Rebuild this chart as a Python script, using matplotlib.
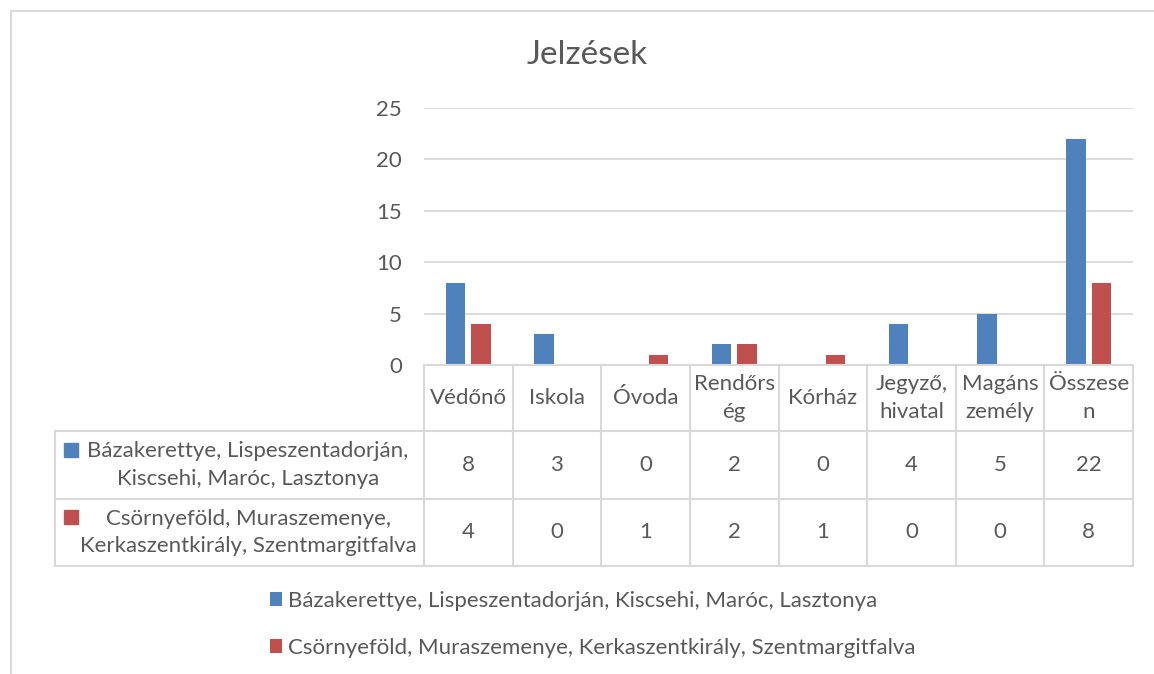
import matplotlib
matplotlib.use("Agg")
import matplotlib.pyplot as plt
from matplotlib.lines import Line2D
from matplotlib.transforms import blended_transform_factory
import numpy as np

plt.rcParams['font.family'] = ['Lato', 'DejaVu Sans']

# data
categories = ["Védőnő", "Iskola", "Óvoda", "Rendőrs\nég", "Kórház",
              "Jegyző,\nhivatal", "Magáns\nzemély", "Összese\nn"]
series_names = ["Bázakerettye, Lispeszentadorján, Kiscsehi, Maróc, Lasztonya",
                "Csörnyeföld, Muraszemenye, Kerkaszentkirály, Szentmargitfalva"]
table_names = ["Bázakerettye, Lispeszentadorján,\nKiscsehi, Maróc, Lasztonya",
               "Csörnyeföld, Muraszemenye,\nKerkaszentkirály, Szentmargitfalva"]
values_a = [8, 3, 0, 2, 0, 4, 5, 22]
values_b = [4, 0, 1, 2, 1, 0, 0, 8]

BLUE = "#4F81BD"
RED = "#C0504D"
GRID = "#D9D9D9"
TEXT = "#595959"
FS = 16

W, H = 1154, 674
fig = plt.figure(figsize=(W / 100, H / 100), dpi=100)

# plot area in pixels: x 424..1133, y 108..365
ax = fig.add_axes([424 / W, 1 - 365 / H, 709 / W, 257 / H])
x = np.arange(len(categories))
bars_a = ax.bar(x - 0.145, values_a, 0.22, color=BLUE)
bars_b = ax.bar(x + 0.145, values_b, 0.22, color=RED)
ax.set_xlim(-0.5, len(categories) - 0.5)
ax.set_ylim(0, 25)
ax.set_yticks(range(0, 26, 5))
ax.set_xticks([])
ax.yaxis.grid(True, color=GRID, lw=1.3)
ax.set_axisbelow(True)
for s in ax.spines.values():
    s.set_visible(False)
ax.tick_params(axis='y', length=0, pad=16, labelsize=FS, labelcolor=TEXT)

# data table under the axis
trans = blended_transform_factory(ax.transData, ax.transAxes)
px_h = 257.0
px_w = 709.0 / len(categories)
h1 = -66 / px_h
h2 = -134 / px_h
h3 = -201 / px_h
left_x = -0.5 - 369 / px_w
right_x = len(categories) - 0.5

def tline(xs, ys):
    ax.plot(xs, ys, color=GRID, lw=1.5, transform=trans, clip_on=False,
            solid_capstyle='projecting')

tline([-0.5, right_x], [0, 0])
for yy in (h1, h2, h3):
    tline([left_x, right_x], [yy, yy])
for k in range(len(categories) + 1):
    tline([k - 0.5, k - 0.5], [0, h3])
tline([left_x, left_x], [h1, h3])

for i, cat in enumerate(categories):
    ax.text(i, h1 / 2, cat, ha='center', va='center', fontsize=FS,
            color=TEXT, linespacing=1.45, transform=trans)
for row, vals in enumerate((values_a, values_b)):
    yc = (h1 + h2) / 2 if row == 0 else (h2 + h3) / 2
    for i, v in enumerate(vals):
        ax.text(i, yc, str(v), ha='center', va='center', fontsize=FS,
                color=TEXT, transform=trans)

label_x = -0.5 - (424 - 248) / px_w
key_x = -0.5 - (424 - 70.5) / px_w
for row, (name, col) in enumerate(zip(table_names, (BLUE, RED))):
    yc = (h1 + h2) / 2 if row == 0 else (h2 + h3) / 2
    ax.text(label_x, yc, name, ha='center', va='center', fontsize=FS,
            color=TEXT, linespacing=1.45, multialignment='center', transform=trans)
    ax.plot([key_x], [yc + 15.5 / px_h], 's', ms=9.8, color=col,
            transform=trans, clip_on=False)

# legend
fig.legend([bars_a, bars_b], series_names, loc='upper left',
           bbox_to_anchor=(270 / W, 1 - 591 / H), frameon=False, fontsize=FS,
           handlelength=0.55, handleheight=0.55, handletextpad=0.25,
           labelspacing=1.2, borderpad=0, borderaxespad=0, labelcolor=TEXT)

fig.text(587 / W, 1 - 55 / H, "Jelzések", ha='center', va='center',
         fontsize=24, color=TEXT)

# chart border
fig.add_artist(Line2D([10.5 / W, 10.5 / W], [0, 1 - 10.5 / H], color=GRID, lw=1.5))
fig.add_artist(Line2D([10.5 / W, 1], [1 - 10.5 / H, 1 - 10.5 / H], color=GRID, lw=1.5))

fig.savefig("out.png", dpi=100, facecolor="white")
